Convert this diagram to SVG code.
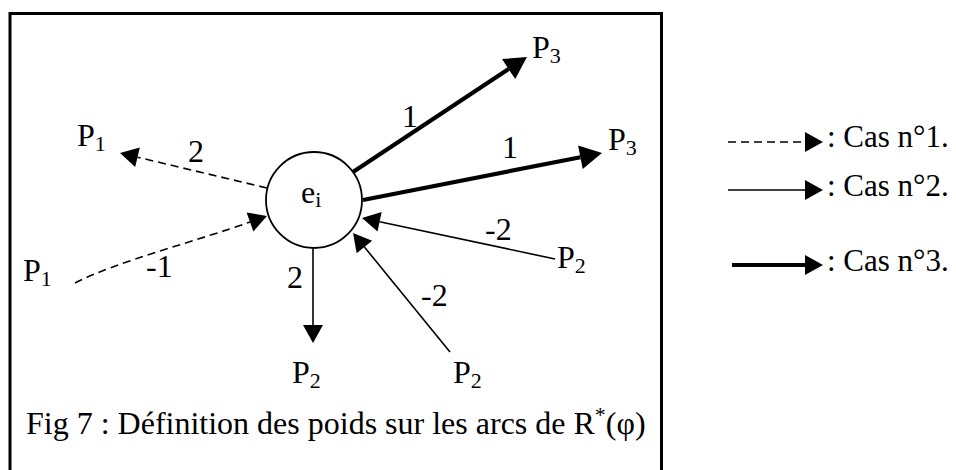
<svg xmlns="http://www.w3.org/2000/svg" width="956" height="470" viewBox="0 0 956 470">
<style>
text{font-family:"Liberation Serif","Times New Roman",serif;font-size:32px;fill:#000}
.sub{font-size:22px}
.lg{font-size:31px}
.thin{stroke:#000;stroke-width:1.6;fill:none}
.dash{stroke:#000;stroke-width:1.6;fill:none;stroke-dasharray:8 5}
.thick{stroke:#000;stroke-width:4.2;fill:none}
</style>
<defs>
<marker id="h" markerUnits="userSpaceOnUse" markerWidth="20" markerHeight="22" viewBox="0 -11 19 22" refX="0" refY="0" orient="auto"><path d="M0,-10 L18,0 L0,10 Z" fill="#000"/></marker>
<marker id="hk" markerUnits="userSpaceOnUse" markerWidth="24" markerHeight="26" viewBox="0 -13 23 26" refX="0" refY="0" orient="auto"><path d="M0,-12 L22,0 L0,12 Z" fill="#000"/></marker>
</defs>
<rect width="956" height="470" fill="#fff"/>
<path d="M10,470 V13.5 H661.5 V470" fill="none" stroke="#000" stroke-width="3"/>

<g id="connectors">
<line class="dash" x1="267" y1="188" x2="137.5" y2="157.2" marker-end="url(#h)"/>
<path class="dash" d="M75,283 C115,262 200,240 250,222" marker-end="url(#h)"/>
<line class="thick" x1="353" y1="172" x2="508.6" y2="69.1" marker-end="url(#hk)"/>
<line class="thick" x1="363" y1="200" x2="580.4" y2="157.2" marker-end="url(#hk)"/>
<line class="thin" x1="555" y1="259" x2="379.6" y2="221.7" marker-end="url(#h)"/>
<line class="thin" x1="450" y1="352" x2="364.4" y2="247" marker-end="url(#h)"/>
<line class="thin" x1="313" y1="248" x2="313" y2="325" marker-end="url(#h)"/>
<text x="188" y="162">2</text>
<text x="146" y="277">-1</text>
<text x="402" y="127">1</text>
<text x="502" y="158">1</text>
<text x="485" y="240">-2</text>
<text x="421" y="306">-2</text>
<text x="287" y="288">2</text>
</g>

<g id="ei">
<circle cx="314" cy="200" r="48" fill="#fff" stroke="#000" stroke-width="1.8"/>
<text x="301" y="203">e<tspan class="sub" dy="4">i</tspan></text>
</g>
<g id="p1-top"><text x="77" y="146">P<tspan class="sub" dy="5">1</tspan></text></g>
<g id="p1-bottom"><text x="23" y="281">P<tspan class="sub" dy="5">1</tspan></text></g>
<g id="p3-top"><text x="532" y="58">P<tspan class="sub" dy="5">3</tspan></text></g>
<g id="p3-right"><text x="608" y="150">P<tspan class="sub" dy="5">3</tspan></text></g>
<g id="p2-right"><text x="557" y="268">P<tspan class="sub" dy="5">2</tspan></text></g>
<g id="p2-bottom"><text x="292" y="383">P<tspan class="sub" dy="5">2</tspan></text></g>
<g id="p2-bottom-right"><text x="453" y="383">P<tspan class="sub" dy="5">2</tspan></text></g>

<g id="caption"><text x="26" y="434">Fig 7 : Définition des poids sur les arcs de R<tspan class="sub" dy="-12">*</tspan><tspan dy="12">(φ)</tspan></text></g>

<g id="legend">
<line class="dash" x1="728" y1="142" x2="805" y2="142" marker-end="url(#h)"/>
<line class="thin" x1="728" y1="190" x2="805" y2="190" marker-end="url(#h)"/>
<line class="thick" x1="732" y1="265" x2="805" y2="265" marker-end="url(#h)"/>
<text class="lg" x="827" y="147">: Cas n°1.</text>
<text class="lg" x="827" y="196">: Cas n°2.</text>
<text class="lg" x="827" y="271">: Cas n°3.</text>
</g>
</svg>
